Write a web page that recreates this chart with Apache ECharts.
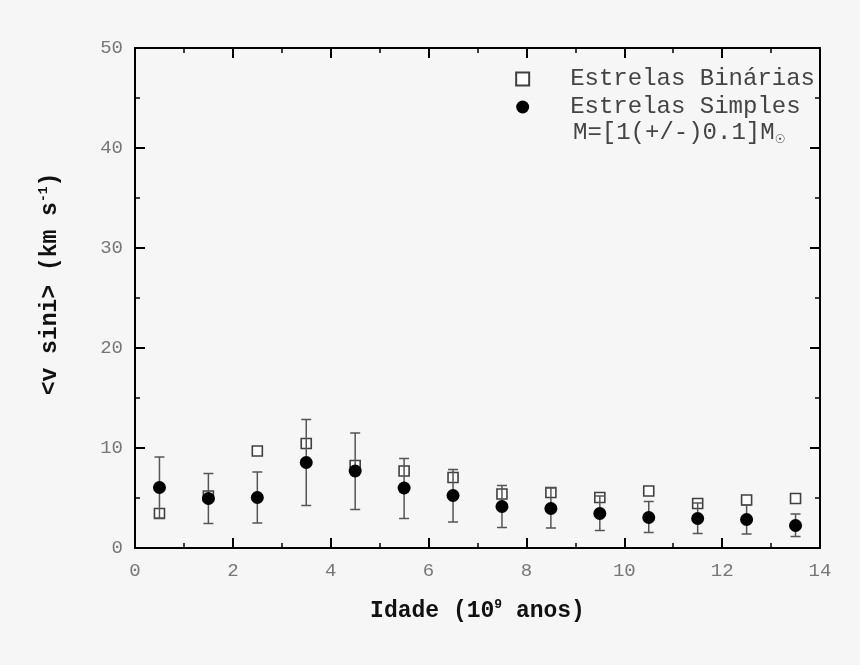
<!DOCTYPE html>
<html>
<head>
<meta charset="utf-8">
<script src="https://cdn.jsdelivr.net/npm/echarts@6/dist/echarts.min.js"></script>
<style>
  html, body { margin: 0; padding: 0; background: #f6f6f6; }
  #chart { width: 860px; height: 665px; }
</style>
</head>
<body>
<div id="chart"></div>
<script>
// ============================
// Dados
// ============================
var idades = [0.5, 1.5, 2.5, 3.5, 4.5, 5.5, 6.5, 7.5, 8.5, 9.5, 10.5, 11.5, 12.5, 13.5];
var binarias = [3.45, 5.2, 9.7, 10.45, 8.25, 7.7, 7.05, 5.4, 5.55, 5.05, 5.7, 4.45, 4.8, 4.95];
var simples = [6.05, 4.95, 5.05, 8.55, 7.7, 6.0, 5.25, 4.15, 3.95, 3.45, 3.05, 2.95, 2.85, 2.25];
var simplesSup = [9.1, 7.45, 7.6, 12.85, 11.5, 8.95, 7.85, 6.25, 6.0, 5.2, 4.65, 4.5, 4.3, 3.4];
var simplesInf = [3.0, 2.45, 2.5, 4.25, 3.85, 2.95, 2.6, 2.05, 2.0, 1.75, 1.55, 1.45, 1.4, 1.15];

var fonte = "'Liberation Mono', 'DejaVu Sans Mono', monospace";

// ============================
// Utilidade para eixos com ticks internos
// ============================
function eixo(extra) {
    var base = {
        type: "value",
        axisLine: { show: true, onZero: false, lineStyle: { color: "#000", width: 2 } },
        axisTick: { show: true, inside: true, length: 10, lineStyle: { color: "#000", width: 2 } },
        minorTick: { show: true, splitNumber: 2, length: 5, lineStyle: { color: "#000", width: 1.5 } },
        splitLine: { show: false },
        axisLabel: { show: false }
    };
    return Object.assign(base, extra);
}

var supEstilo = { fontFamily: fonte, fontSize: 13, fontWeight: "bold", color: "#111", verticalAlign: "top", padding: [0, 0, 14, 0] };

var chart = echarts.init(document.getElementById("chart"));

chart.setOption({
    backgroundColor: "#f6f6f6",
    animation: false,
    grid: { left: 135, right: 40, top: 48, bottom: 117 },
    legend: {
        orient: "vertical",
        right: 40,
        top: 62,
        itemGap: 4,
        itemWidth: 13,
        itemHeight: 13,
        data: ["Estrelas Binárias", "Estrelas Simples"],
        textStyle: { fontFamily: fonte, fontSize: 24, color: "#444", padding: [0, 0, 0, 36] }
    },
    xAxis: [
        eixo({
            min: 0, max: 14, interval: 2,
            name: "Idade (10{sup|9} anos)",
            nameLocation: "middle",
            nameGap: 50,
            nameTextStyle: {
                fontFamily: fonte, fontSize: 23, fontWeight: "bold", color: "#111",
                rich: { sup: supEstilo }
            },
            axisLabel: { show: true, margin: 13, fontFamily: fonte, fontSize: 19, color: "#777" }
        }),
        eixo({ min: 0, max: 14, interval: 2, position: "top" })
    ],
    yAxis: [
        eixo({
            min: 0, max: 50, interval: 10,
            name: "<v sini> (km s{sup|-1})",
            nameLocation: "middle",
            nameGap: 71,
            nameRotate: 90,
            nameTextStyle: {
                fontFamily: fonte, fontSize: 23, fontWeight: "bold", color: "#111",
                padding: [0, 0, 0, 28],
                rich: { sup: supEstilo }
            },
            axisLabel: { show: true, margin: 12, fontFamily: fonte, fontSize: 19, color: "#777" }
        }),
        eixo({ min: 0, max: 50, interval: 10, position: "right" })
    ],
    graphic: [
        {
            type: "text",
            left: 573,
            top: 121,
            style: {
                text: "M=[1(+/-)0.1]M{sol|☉}",
                fontFamily: fonte,
                fontSize: 24,
                fill: "#444",
                rich: { sol: { fontFamily: "DejaVu Sans", fontSize: 12, fill: "#444", verticalAlign: "bottom", padding: [14, 0, 0, 0] } }
            }
        }
    ],
    series: [
        {
            name: "Estrelas Binárias",
            type: "scatter",
            symbol: "rect",
            symbolSize: 10,
            z: 2,
            itemStyle: { color: "#fff", borderColor: "#111", borderWidth: 1.6 },
            data: idades.map((x, i) => [x, binarias[i]])
        },
        {
            name: "barras",
            type: "custom",
            z: 3,
            silent: true,
            renderItem: function (params, api) {
                var x = api.value(0);
                var p1 = api.coord([x, api.value(1)]);
                var p2 = api.coord([x, api.value(2)]);
                var w = 5;
                var estilo = { stroke: "#555", lineWidth: 1.5 };
                return {
                    type: "group",
                    children: [
                        { type: "line", shape: { x1: p1[0], y1: p1[1], x2: p2[0], y2: p2[1] }, style: estilo },
                        { type: "line", shape: { x1: p1[0] - w, y1: p1[1], x2: p1[0] + w, y2: p1[1] }, style: estilo },
                        { type: "line", shape: { x1: p2[0] - w, y1: p2[1], x2: p2[0] + w, y2: p2[1] }, style: estilo }
                    ]
                };
            },
            data: idades.map((x, i) => [x, simplesInf[i], simplesSup[i]])
        },
        {
            name: "Estrelas Simples",
            type: "scatter",
            symbol: "circle",
            symbolSize: 13,
            z: 4,
            itemStyle: { color: "#000", opacity: 1 },
            data: idades.map((x, i) => [x, simples[i]])
        }
    ]
});
</script>
</body>
</html>
